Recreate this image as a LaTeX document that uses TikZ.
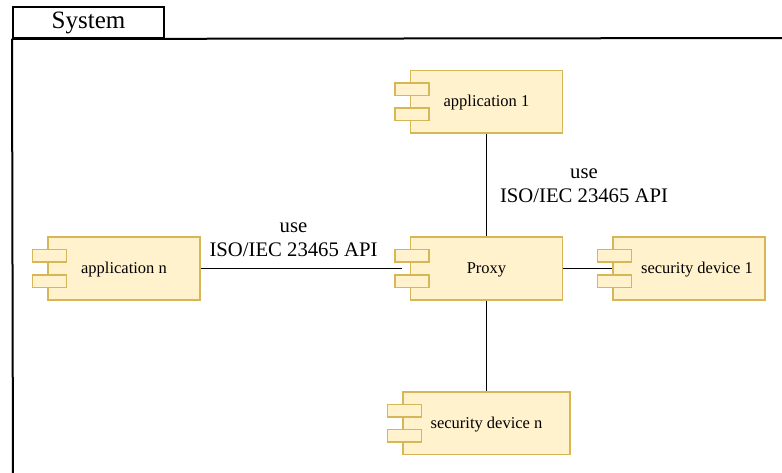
\documentclass[tikz,border=0pt]{standalone}
\usepackage{fontspec}
\setmainfont{Liberation Serif}
\definecolor{cfill}{HTML}{FFF2CC}
\definecolor{cdraw}{HTML}{D6B656}
\tikzset{
 comp/.style={draw=cdraw, fill=cfill, line width=1.5pt, minimum height=62.5pt, inner sep=0pt, text height=12.5pt, text depth=2.5pt, font=\fontsize{16.5}{20}\selectfont},
 port/.style={draw=cdraw, fill=cfill, line width=1.5pt, minimum width=34pt, minimum height=12.5pt, inner sep=0pt},
 conn/.style={draw=black, line width=1.2pt},
 lbl/.style={align=center, font=\fontsize{20.7}{24}\selectfont, inner sep=0pt},
 frameline/.style={draw=black, line width=2pt}
}
\newcommand\mycomp[5]{%
 \node[comp, minimum width=#4pt] (#1) at (#2,#3) {#5};
 \node[port] (#1-p1) at ([xshift=2pt,yshift=12.5pt]#1.west) {};
 \node[port] (#1-p2) at ([xshift=2pt,yshift=-12.5pt]#1.west) {};
}
\begin{document}
\begin{tikzpicture}[x=1pt,y=-1pt]
\path[use as bounding box, clip] (0,0) rectangle (782,473);
% frame
\node[frameline, minimum width=151pt, minimum height=31pt, inner sep=0pt, text height=16pt, text depth=4pt, font=\fontsize{25}{30}\selectfont] (sys) at (88.5,22.5) {System};
\draw[frameline] (sys.south west) -- (13,490);
\draw[frameline] (sys.south west) -- (800,38);
% components
\mycomp{app1}{486.5}{102}{152}{application 1}
\mycomp{proxy}{486.5}{268.5}{152}{Proxy}
\mycomp{sdone}{689}{268.5}{152}{\hspace*{16pt}security device 1}
\mycomp{appn}{124}{268.5}{152}{application n}
\mycomp{sdn}{486.5}{423}{167}{security device n}
% connectors
\draw[conn] (app1.south) -- (proxy.north);
\draw[conn] (proxy.south) -- (sdn.north);
\draw[conn] (appn.east) -- ([xshift=-8pt]proxy.west);
\draw[conn] (proxy.east) -- (sdone.west);
% labels
\node[lbl] (lup) at (584,186) {use\\ISO/IEC 23465 API};
\node[lbl] (llow) at (293.5,240) {use\\ISO/IEC 23465 API};
\end{tikzpicture}
\end{document}
